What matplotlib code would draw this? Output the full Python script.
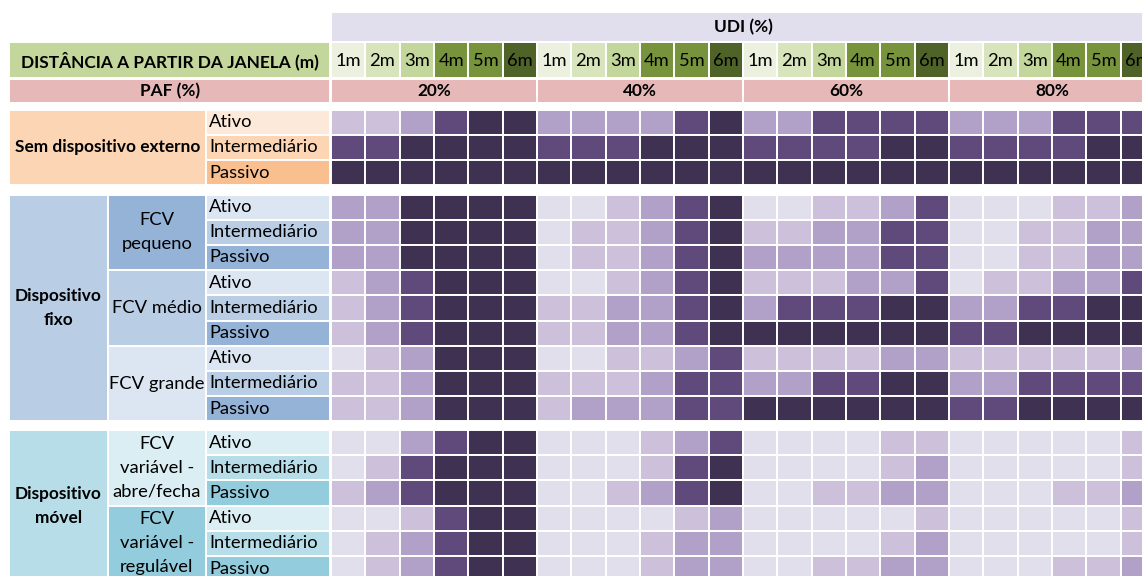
import matplotlib
matplotlib.use("Agg")
import matplotlib.pyplot as plt
from matplotlib.patches import Rectangle

plt.rcParams['font.family'] = ['Lato', 'DejaVu Sans']

paf_labels = ['20%', '40%', '60%', '80%']
dist_labels = ['1m', '2m', '3m', '4m', '5m', '6m']
level_labels = ['Ativo', 'Intermediário', 'Passivo']

# UDI class per row (0 = lowest .. 4 = highest), one list per PAF block
# rows: sem dispositivo (3), FCV pequeno (3), médio (3), grande (3),
#       abre/fecha (3), regulável (3)
udi_20 = [
    [1, 1, 2, 3, 4, 4], [3, 3, 4, 4, 4, 4], [4, 4, 4, 4, 4, 4],
    [2, 2, 4, 4, 4, 4], [2, 2, 4, 4, 4, 4], [2, 2, 4, 4, 4, 4],
    [1, 2, 3, 4, 4, 4], [1, 2, 3, 4, 4, 4], [1, 2, 3, 4, 4, 4],
    [0, 1, 2, 4, 4, 4], [1, 1, 2, 4, 4, 4], [1, 1, 2, 4, 4, 4],
    [0, 0, 2, 3, 4, 4], [0, 1, 3, 4, 4, 4], [1, 2, 3, 4, 4, 4],
    [0, 0, 1, 3, 4, 4], [0, 1, 2, 3, 4, 4], [0, 1, 2, 3, 4, 4],
]
udi_40 = [
    [2, 2, 2, 2, 3, 4], [3, 3, 3, 4, 4, 4], [4, 4, 4, 4, 4, 4],
    [0, 0, 1, 2, 3, 4], [0, 1, 1, 2, 3, 4], [0, 1, 1, 2, 3, 4],
    [0, 0, 1, 2, 3, 4], [1, 1, 2, 2, 3, 4], [1, 1, 2, 2, 3, 4],
    [0, 0, 1, 1, 2, 3], [1, 1, 1, 2, 3, 3], [1, 2, 2, 2, 3, 3],
    [0, 0, 0, 1, 2, 3], [0, 0, 0, 1, 3, 4], [0, 0, 1, 2, 3, 4],
    [0, 0, 0, 0, 1, 2], [0, 0, 0, 1, 2, 2], [0, 0, 0, 1, 2, 2],
]
udi_60 = [
    [2, 2, 3, 3, 3, 3], [3, 3, 3, 3, 4, 4], [4, 4, 4, 4, 4, 4],
    [0, 0, 1, 1, 2, 3], [1, 1, 2, 2, 3, 3], [2, 2, 2, 2, 3, 3],
    [1, 1, 1, 2, 2, 3], [2, 3, 3, 3, 4, 4], [4, 4, 4, 4, 4, 4],
    [1, 1, 1, 1, 2, 2], [2, 2, 3, 3, 4, 4], [4, 4, 4, 4, 4, 4],
    [0, 0, 0, 0, 1, 1], [0, 0, 0, 0, 1, 2], [0, 0, 1, 1, 2, 2],
    [0, 0, 0, 0, 0, 1], [0, 0, 0, 0, 1, 2], [0, 0, 1, 1, 2, 2],
]
udi_80 = [
    [2, 2, 2, 3, 3, 3], [3, 3, 3, 3, 4, 4], [4, 4, 4, 4, 4, 4],
    [0, 0, 0, 1, 1, 2], [0, 0, 1, 1, 2, 2], [0, 0, 1, 1, 2, 2],
    [0, 1, 1, 2, 2, 3], [2, 2, 3, 3, 4, 4], [3, 3, 4, 4, 4, 4],
    [1, 1, 1, 1, 1, 2], [2, 2, 3, 3, 3, 3], [3, 3, 4, 4, 4, 4],
    [0, 0, 0, 0, 0, 1], [0, 0, 0, 0, 0, 1], [0, 0, 0, 1, 1, 2],
    [0, 0, 0, 0, 0, 1], [0, 0, 0, 0, 0, 1], [0, 0, 0, 1, 1, 2],
]
blocks = [udi_20, udi_40, udi_60, udi_80]

purples = ['#e1dfec', '#cdc0da', '#b1a1c8', '#604a7b', '#3f3151']
greens = ['#ebf1de', '#d8e4bc', '#c3d69b', '#77933c', '#77933c', '#4f6228']

# layout (pixels)
W, H = 1142, 576
x_data, cw = 331, 34.33
rh = 25.2
x_grp, x_sub, x_lab = 9, 107.5, 206

fig = plt.figure(figsize=(W / 100, H / 100), dpi=100)
ax = fig.add_axes([0, 0, 1, 1])
ax.set_xlim(0, W)
ax.set_ylim(H, 0)
ax.axis('off')

FS = 13.2     # regular text
FB = 12.4     # bold text
LS = 1.62


def box(x0, y0, w, h, fc, lw=1.4):
    ax.add_patch(Rectangle((x0, y0), w, h, facecolor=fc, edgecolor='white', linewidth=lw))


# header rows
box(x_data, 12, W - x_data + 20, 30, '#e1dfee')
ax.text((x_data + x_data + 24 * cw) / 2, 27, 'UDI (%)', ha='center', va='center',
        fontsize=FB, fontweight='bold')
box(x_grp, 42, x_data - x_grp - 1.5, 36, '#c3d69b')
ax.text((x_grp + x_data) / 2, 61, 'DISTÂNCIA A PARTIR DA JANELA (m)', ha='center',
        va='center', fontsize=FB, fontweight='bold')
box(x_grp, 78.5, x_data - x_grp - 1.5, 24, '#e6b9b8')
ax.text((x_grp + x_data) / 2, 91, 'PAF (%)', ha='center', va='center',
        fontsize=FB, fontweight='bold')
for b, paf in enumerate(paf_labels):
    bx = x_data + b * 6 * cw
    box(bx, 78.5, 6 * cw, 24, '#e6b9b8')
    ax.text(bx + 3 * cw, 91, paf, ha='center', va='center', fontsize=FB, fontweight='bold')
    for j, d in enumerate(dist_labels):
        box(bx + j * cw, 42, cw, 36, greens[j])
        ax.text(bx + j * cw + cw / 2, 61, d, ha='center', va='center', fontsize=FS)

# row groups
group_y = [109.5, 194.5, 430]
groups = [
    ('Sem dispositivo externo', None, ['#fde9d9', '#fcd5b5', '#fabf8f'], '#fcd5b5', []),
    ('Dispositivo\nfixo', True, ['#dce6f2', '#b9cde5', '#95b3d7'], '#b9cde5',
     [('FCV\npequeno', '#95b3d7'), ('FCV médio', '#b9cde5'), ('FCV grande', '#dce6f2')]),
    ('Dispositivo\nmóvel', True, ['#dbeef4', '#b7dee8', '#93cddd'], '#b7dee8',
     [('FCV\nvariável -\nabre/fecha', '#dbeef4'), ('FCV\nvariável -\nregulável', '#93cddd')]),
]

row = 0
for gy, (gname, has_sub, lab_cols, gcol, subs) in zip(group_y, groups):
    n_rows = 3 * max(1, len(subs))
    gh = n_rows * rh
    if has_sub:
        box(x_grp, gy, x_sub - x_grp, gh, gcol)
        ax.text((x_grp + x_sub) / 2, gy + gh / 2, gname, ha='center', va='center',
                fontsize=FB, fontweight='bold', linespacing=LS)
        for s, (sname, scol) in enumerate(subs):
            sy = gy + s * 3 * rh
            box(x_sub, sy, x_lab - x_sub, 3 * rh, scol)
            ax.text((x_sub + x_lab) / 2, sy + 1.5 * rh, sname, ha='center', va='center',
                    fontsize=FS, linespacing=LS)
    else:
        box(x_grp, gy, x_lab - x_grp, gh, gcol)
        ax.text((x_grp + x_lab) / 2, gy + gh / 2, gname, ha='center', va='center',
                fontsize=FB, fontweight='bold')
    for r in range(n_rows):
        ry = gy + r * rh
        box(x_lab, ry, x_data - x_lab - 1, rh, lab_cols[r % 3])
        ax.text(x_lab + 3, ry + rh / 2, level_labels[r % 3], ha='left', va='center',
                fontsize=FS)
        for b, blk in enumerate(blocks):
            for j, lvl in enumerate(blk[row]):
                box(x_data + (b * 6 + j) * cw, ry, cw, rh, purples[lvl])
        row += 1

fig.savefig('out.png', dpi=100)
